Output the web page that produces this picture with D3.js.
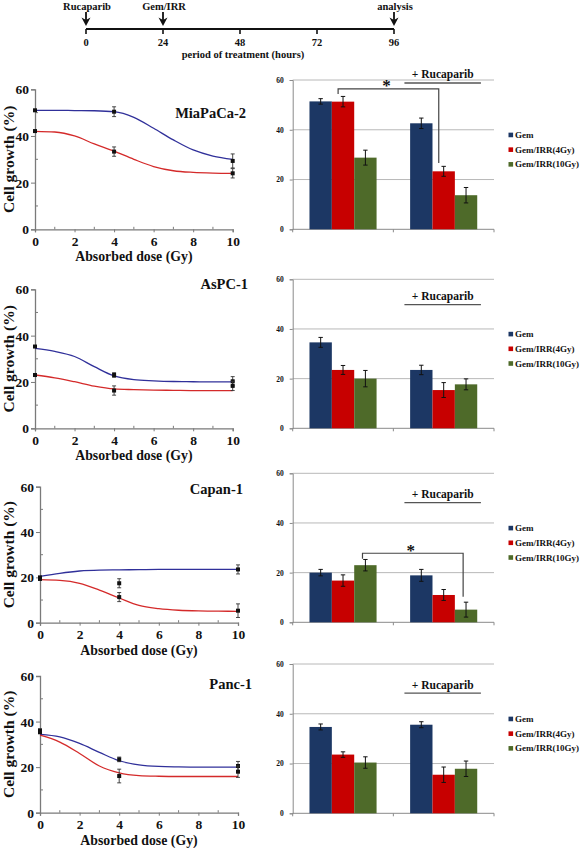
<!DOCTYPE html>
<html><head><meta charset="utf-8">
<script src="https://cdn.jsdelivr.net/npm/d3@7"></script>
<style>
body{margin:0;background:#fff}
svg{display:block}
text{font-family:"Liberation Serif","Times New Roman",serif;font-weight:bold;fill:#111}
</style>
</head><body><svg id="c" width="580" height="848"></svg>
<script>
// ---------------- DATA ----------------
const timeTicks = [0, 24, 48, 72, 96];
const timeEvents = ["Rucaparib", "Gem/IRR", "analysis"];
const timeEventHours = [0, 24, 96];
const timeTitle = "period of treatment (hours)";

const cellLines = ["MiaPaCa-2", "AsPC-1", "Capan-1", "Panc-1"];
const doses = [0, 4, 10];
const doseTicks = [0, 2, 4, 6, 8, 10];
const growthTicks = [0, 20, 40, 60];
const curveDoses = [0, 1, 2, 3, 4, 5, 6, 7, 8, 9, 10];

// left panels: measured points (blue = Gem, red = Gem + Rucaparib) and fitted curves
const miaBlue = [51, 50.4, 29.3], miaBlueErr = [0, 2.1, 3];
const miaRed = [42.1, 33.3, 24], miaRedErr = [0, 2, 2];
const miaBlueCurve = [51, 51, 50.9, 50.8, 50.4, 48, 43.3, 38.3, 34, 31.4, 30];
const miaRedCurve = [42, 41.7, 40, 36.6, 33.5, 30, 26.9, 25.1, 24.4, 24.1, 24];

const aspBlue = [35.3, 23, 20.3], aspBlueErr = [0, 1, 2];
const aspRed = [23, 16.3, 18.3], aspRedErr = [0, 2, 2];
const aspBlueCurve = [34.5, 33.2, 31, 26.6, 22.6, 21, 20.5, 20.2, 20.1, 20, 20];
const aspRedCurve = [23, 21.8, 20.1, 18.2, 17, 16.7, 16.5, 16.4, 16.3, 16.3, 16.3];

const capBlue = [20, 17.4, 23.5], capBlueErr = [0, 2, 2];
const capRed = [19.3, 11.3, 5.3], capRedErr = [0, 2, 3];
const capBlueCurve = [20.4, 21.8, 22.8, 23.2, 23.3, 23.4, 23.5, 23.5, 23.5, 23.5, 23.5];
const capRedCurve = [19, 18.7, 17.4, 14.4, 10.9, 7.6, 6.2, 5.5, 5.2, 5.1, 5];

const panBlue = [35.9, 23.4, 20.5], panBlueErr = [1, 1, 2];
const panRed = [35.3, 16.1, 18], panRedErr = [0, 3, 2.5];
const panBlueCurve = [34.4, 33.3, 30.4, 26.5, 22.8, 21, 20.3, 20.1, 20, 20, 20];
const panRedCurve = [34, 31, 26, 20.5, 17.5, 16.3, 16, 15.9, 15.9, 15.9, 15.9];

// right panels: bar charts
const barGroups = ["Gem/IRR", "+ Rucaparib"];
const barSeries = ["Gem", "Gem/IRR(4Gy)", "Gem/IRR(10Gy)"];
const barColors = ["#1c3764", "#c70000", "#4e6a29"];

const miaBars = [51.4, 51.3, 28.8], miaBarsErr = [1.1, 2.1, 3];
const miaBarsRuc = [42.6, 23.3, 13.7], miaBarsRucErr = [2.1, 2, 3.1];
const aspBars = [34.6, 23.5, 20], aspBarsErr = [2, 1.8, 3.3];
const aspBarsRuc = [23.5, 15.4, 17.7], aspBarsRucErr = [1.9, 3, 2.2];
const capBars = [20, 16.8, 23], capBarsErr = [1.3, 2.3, 2.3];
const capBarsRuc = [18.9, 11, 5.1], capBarsRucErr = [2.4, 2.2, 3];
const panBars = [34.7, 23.6, 20.4], panBarsErr = [1.2, 1.1, 2.3];
const panBarsRuc = [35.6, 15.5, 17.9], panBarsRucErr = [1.2, 3.1, 3.1];

// significance brackets: [series index, top level, left leg end, right leg end]
const miaBracket = [1, 56.4, 54.4, 26.6];
const capBracket = [2, 27.8, 25.6, 10.3];
const rucLabelLevel = [58.8, 49.8, 48.2, 48.3];

// ---------------- LAYOUT ----------------
const leftLayout = [
  {x0: 35, x1: 232.7, yTop: 89.3, yBot: 229.3, tx: 246, ty: 118},
  {x0: 35, x1: 232.7, yTop: 289.3, yBot: 428.3, tx: 248, ty: 289},
  {x0: 40, x1: 238, yTop: 486.7, yBot: 622.7, tx: 243, ty: 494},
  {x0: 40, x1: 238, yTop: 676, yBot: 812.7, tx: 252, ty: 689}
];
const rightLayout = [
  {yTop: 80, yBot: 229.3, frac: 0.28},
  {yTop: 279.3, yBot: 428.3, frac: 0.3},
  {yTop: 473.3, yBot: 622.3, frac: 0.37},
  {yTop: 664, yBot: 813.3, frac: 0.3}
];
const rightX0 = 292.7, rightX1 = 494;

const leftData = [
  [miaBlue, miaBlueErr, miaRed, miaRedErr, miaBlueCurve, miaRedCurve],
  [aspBlue, aspBlueErr, aspRed, aspRedErr, aspBlueCurve, aspRedCurve],
  [capBlue, capBlueErr, capRed, capRedErr, capBlueCurve, capRedCurve],
  [panBlue, panBlueErr, panRed, panRedErr, panBlueCurve, panRedCurve]
];
const rightData = [
  [[miaBars, miaBarsErr], [miaBarsRuc, miaBarsRucErr], miaBracket],
  [[aspBars, aspBarsErr], [aspBarsRuc, aspBarsRucErr], null],
  [[capBars, capBarsErr], [capBarsRuc, capBarsRucErr], capBracket],
  [[panBars, panBarsErr], [panBarsRuc, panBarsRucErr], null]
];

const svg = d3.select("#c");

// ---------------- TIMELINE ----------------
(function () {
  const tx = d3.scaleLinear().domain([0, 96]).range([86, 394]);
  const g = svg.append("g");
  const lineY = 29;
  g.append("line").attr("x1", tx(0)).attr("x2", tx(96)).attr("y1", lineY).attr("y2", lineY)
    .attr("stroke", "#111").attr("stroke-width", 2);
  g.selectAll(".tt").data(timeTicks).enter().append("line")
    .attr("x1", d => tx(d)).attr("x2", d => tx(d)).attr("y1", lineY).attr("y2", lineY + 5)
    .attr("stroke", "#111").attr("stroke-width", 1.6);
  g.selectAll(".tl").data(timeTicks).enter().append("text")
    .attr("x", d => tx(d)).attr("y", 45.5).attr("text-anchor", "middle")
    .attr("font-size", 10.5).text(d => d);
  g.append("text").attr("x", 243).attr("y", 57.5).attr("text-anchor", "middle")
    .attr("font-size", 10.5).text(timeTitle);
  timeEventHours.forEach((h, i) => {
    const x = tx(h);
    g.append("line").attr("x1", x).attr("x2", x).attr("y1", 12).attr("y2", 22)
      .attr("stroke", "#111").attr("stroke-width", 1.8);
    g.append("path").attr("d", `M${x - 4.5},17.5 L${x},26 L${x + 4.5},17.5 L${x},20 Z`).attr("fill", "#111");
    g.append("text").attr("x", x + 1).attr("y", 9.5).attr("text-anchor", "middle")
      .attr("font-size", 10.5).text(timeEvents[i]);
  });
})();

// ---------------- LEFT PANELS ----------------
const axisGray = "#7a7a7a";
leftLayout.forEach((L, p) => {
  const [blue, blueErr, red, redErr, blueCurve, redCurve] = leftData[p];
  const x = d3.scaleLinear().domain([0, 10]).range([L.x0, L.x1]);
  const y = d3.scaleLinear().domain([0, 60]).range([L.yBot, L.yTop]);
  const g = svg.append("g");

  // axes
  const xa = g.append("g").attr("transform", `translate(0,${L.yBot})`)
    .call(d3.axisBottom(x).tickValues(doseTicks).tickSize(3).tickFormat(d3.format("d")));
  const ya = g.append("g").attr("transform", `translate(${L.x0},0)`)
    .call(d3.axisLeft(y).tickValues(growthTicks).tickSize(4).tickFormat(d3.format("d")));
  [xa, ya].forEach(a => {
    a.select(".domain").attr("stroke", axisGray).attr("stroke-width", 1.3);
    a.selectAll(".tick line").attr("stroke", axisGray);
    a.selectAll("text").attr("font-size", 13.5).attr("fill", "#111")
      .style("font-family", '"Liberation Serif",serif').style("font-weight", "bold");
  });
  xa.selectAll("text").attr("dy", 0).attr("y", 16.5);
  ya.selectAll("text").attr("x", -6).attr("dy", "0.34em");
  // minor ticks (inside)
  g.selectAll(".my").data([10, 30, 50]).enter().append("line")
    .attr("x1", L.x0).attr("x2", L.x0 + 3).attr("y1", d => y(d)).attr("y2", d => y(d))
    .attr("stroke", axisGray);
  g.selectAll(".mx").data([1, 3, 5, 7, 9]).enter().append("line")
    .attr("x1", d => x(d)).attr("x2", d => x(d)).attr("y1", L.yBot).attr("y2", L.yBot - 2.5)
    .attr("stroke", axisGray);

  // labels
  g.append("text").attr("transform", `translate(14,${(L.yTop + L.yBot) / 2}) rotate(-90)`)
    .attr("text-anchor", "middle").attr("font-size", 15.5).text("Cell growth (%)");
  g.append("text").attr("transform", `translate(${(L.x0 + L.x1) / 2},${L.yBot + 32}) scale(0.92,1)`)
    .attr("text-anchor", "middle").attr("font-size", 15).text("Absorbed dose (Gy)");
  g.append("text").attr("x", L.tx).attr("y", L.ty).attr("text-anchor", "end")
    .attr("font-size", 14.5).text(cellLines[p]);

  // curves
  const line = d3.line().x((d, i) => x(curveDoses[i])).y(d => y(d)).curve(d3.curveMonotoneX);
  g.append("path").attr("d", line(blueCurve)).attr("fill", "none").attr("stroke", "#30309a").attr("stroke-width", 1.3);
  g.append("path").attr("d", line(redCurve)).attr("fill", "none").attr("stroke", "#d42a2a").attr("stroke-width", 1.3);

  // points + error bars
  [[blue, blueErr], [red, redErr]].forEach(([vals, errs]) => {
    vals.forEach((v, i) => {
      const cx = x(doses[i]), cy = y(v), e = errs[i];
      if (e > 0) {
        g.append("line").attr("x1", cx).attr("x2", cx).attr("y1", y(v - e)).attr("y2", y(v + e))
          .attr("stroke", "#333").attr("stroke-width", 0.9);
        [v - e, v + e].forEach(ev => g.append("line").attr("x1", cx - 2).attr("x2", cx + 2)
          .attr("y1", y(ev)).attr("y2", y(ev)).attr("stroke", "#333").attr("stroke-width", 0.9));
      }
      g.append("rect").attr("x", cx - 2).attr("y", cy - 2).attr("width", 4).attr("height", 4).attr("fill", "#111");
    });
  });
});

// ---------------- RIGHT PANELS ----------------
rightLayout.forEach((R, p) => {
  const [grp0, grp1, bracket] = rightData[p];
  const groupsData = [grp0, grp1];
  const xg = d3.scaleBand().domain(barGroups).range([rightX0, rightX1]);
  const xs = d3.scaleBand().domain(barSeries).range([0, xg.bandwidth()]).paddingOuter(0.75);
  const y = d3.scaleLinear().domain([0, 60]).range([R.yBot, R.yTop]);
  const g = svg.append("g");

  // gridlines
  g.selectAll(".grid").data(growthTicks.filter(d => d > 0)).enter().append("line")
    .attr("x1", rightX0).attr("x2", rightX1).attr("y1", d => y(d)).attr("y2", d => y(d))
    .attr("stroke", "#b8b8b8").attr("stroke-width", 1);

  // y axis
  const ya = g.append("g").attr("transform", `translate(${rightX0},0)`)
    .call(d3.axisLeft(y).tickValues(growthTicks).tickSize(3).tickFormat(d3.format("d")));
  ya.select(".domain").attr("stroke", "#8a8a8a");
  ya.selectAll(".tick line").attr("stroke", "#8a8a8a");
  ya.selectAll("text").attr("x", -9).attr("font-size", 7.5).attr("fill", "#333")
    .style("font-family", '"Liberation Serif",serif').style("font-weight", "bold");
  // x baseline
  g.append("line").attr("x1", rightX0).attr("x2", rightX1).attr("y1", R.yBot).attr("y2", R.yBot)
    .attr("stroke", "#8a8a8a");
  [rightX0, rightX0 + xg.bandwidth(), rightX1].forEach(tx => g.append("line")
    .attr("x1", tx).attr("x2", tx).attr("y1", R.yBot).attr("y2", R.yBot + 3).attr("stroke", "#8a8a8a"));

  // bars
  groupsData.forEach(([vals, errs], gi) => {
    const gx = xg(barGroups[gi]);
    vals.forEach((v, si) => {
      const bx = gx + xs(barSeries[si]);
      g.append("rect").attr("x", bx).attr("y", y(v)).attr("width", xs.bandwidth())
        .attr("height", y(0) - y(v)).attr("fill", barColors[si]);
    });
    vals.forEach((v, si) => {
      const cx = gx + xs(barSeries[si]) + xs.bandwidth() / 2, e = errs[si];
      g.append("line").attr("x1", cx).attr("x2", cx).attr("y1", y(v - e)).attr("y2", y(v + e))
        .attr("stroke", "#111").attr("stroke-width", 1);
      [v - e, v + e].forEach(ev => g.append("line").attr("x1", cx - 2.2).attr("x2", cx + 2.2)
        .attr("y1", y(ev)).attr("y2", y(ev)).attr("stroke", "#111").attr("stroke-width", 1));
    });
  });

  // + Rucaparib label
  const g1 = xg(barGroups[1]), bw = xg.bandwidth();
  const uy = y(rucLabelLevel[p]);
  g.append("line").attr("x1", g1 + 0.11 * bw).attr("x2", g1 + 0.87 * bw).attr("y1", uy).attr("y2", uy)
    .attr("stroke", "#555").attr("stroke-width", 1.3);
  g.append("text").attr("x", g1 + 0.49 * bw).attr("y", uy - 4.5).attr("text-anchor", "middle")
    .attr("font-size", 11.5).text(barGroups[1]);

  // bracket
  if (bracket) {
    const [si, top, lEnd, rEnd] = bracket;
    const lx = xg(barGroups[0]) + xs(barSeries[si]) + xs.bandwidth() * R.frac;
    const rx = xg(barGroups[1]) + xs(barSeries[si]) + xs.bandwidth() * R.frac;
    g.append("path").attr("d", `M${lx},${y(lEnd)} L${lx},${y(top)} L${rx},${y(top)} L${rx},${y(rEnd)}`)
      .attr("fill", "none").attr("stroke", "#444").attr("stroke-width", 1.2);
    g.append("text").attr("x", (lx + rx) / 2 - 2).attr("y", y(top) + 2.5).attr("text-anchor", "middle")
      .attr("font-size", 17).text("*");
  }

  // legend
  const legY = (R.yTop + R.yBot) / 2;
  barSeries.forEach((s, i) => {
    const ly = legY - 5 + (i - 1) * 14.7;
    g.append("rect").attr("x", 508.5).attr("y", ly - 2.3).attr("width", 4.6).attr("height", 4.6).attr("fill", barColors[i]);
    g.append("text").attr("x", 515).attr("y", ly + 3).attr("font-size", 9).attr("fill", "#222").text(s);
  });
});
</script>
</body></html>
